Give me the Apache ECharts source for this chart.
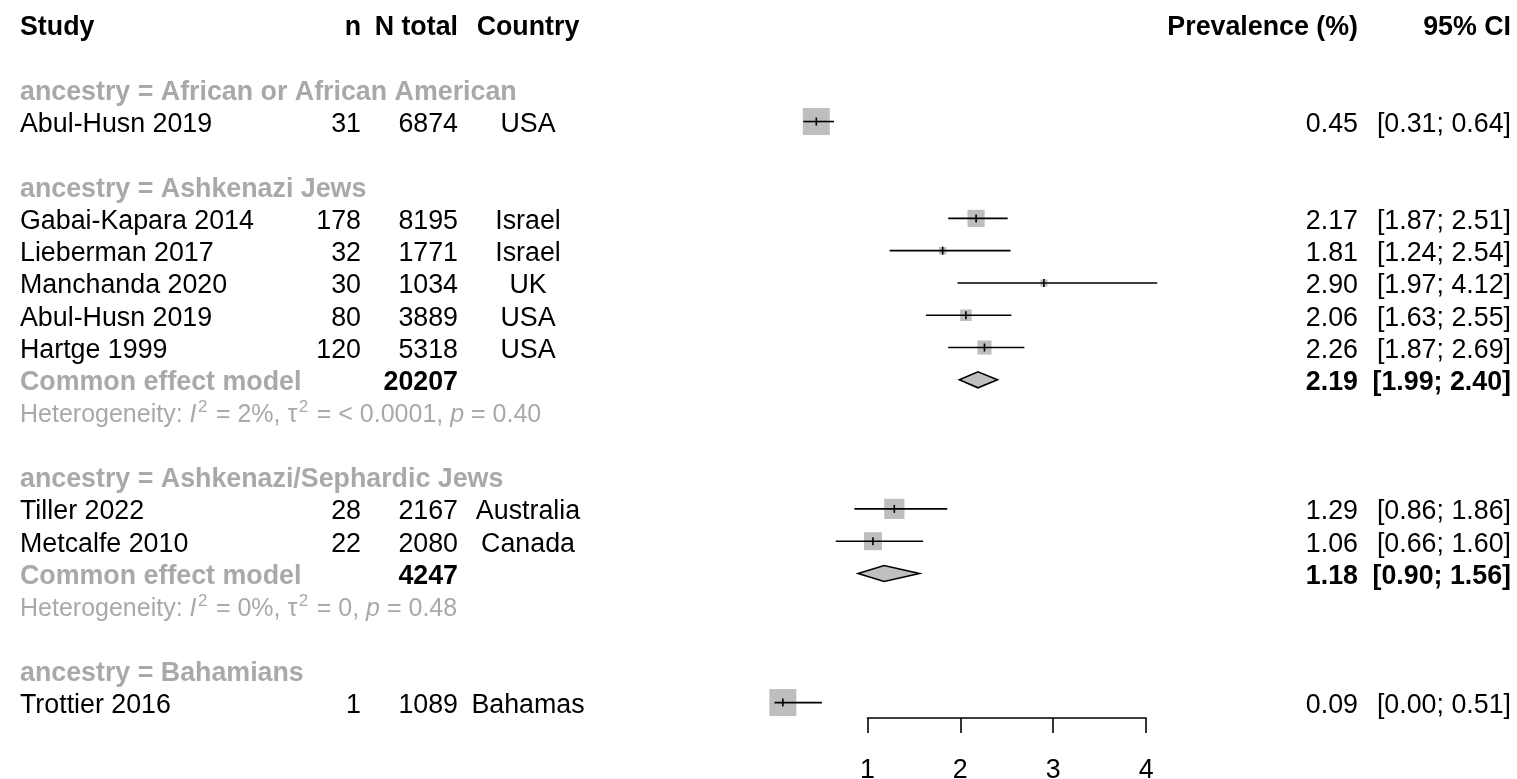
<!DOCTYPE html>
<html>
<head>
<meta charset="utf-8">
<script src="https://cdn.jsdelivr.net/npm/echarts@6/dist/echarts.min.js"></script>
<style>
html,body{margin:0;padding:0;background:#fff;}
#chart{width:1517px;height:779px;}
</style>
</head>
<body>
<div id="chart"></div>
<script>
// ---------------- DATA ----------------
const headers = ['Study', 'n', 'N total', 'Country', 'Prevalence (%)', '95% CI'];
const groupNames = ['African or African American', 'Ashkenazi Jews', 'Ashkenazi/Sephardic Jews', 'Bahamians'];
const studyGroup = [0, 1, 1, 1, 1, 1, 2, 2, 3];
const studies = ['Abul-Husn 2019', 'Gabai-Kapara 2014', 'Lieberman 2017', 'Manchanda 2020', 'Abul-Husn 2019', 'Hartge 1999', 'Tiller 2022', 'Metcalfe 2010', 'Trottier 2016'];
const events = [31, 178, 32, 30, 80, 120, 28, 22, 1];
const totals = [6874, 8195, 1771, 1034, 3889, 5318, 2167, 2080, 1089];
const countries = ['USA', 'Israel', 'Israel', 'UK', 'USA', 'USA', 'Australia', 'Canada', 'Bahamas'];
const prevalence = [0.45, 2.17, 1.81, 2.90, 2.06, 2.26, 1.29, 1.06, 0.09];
const ciLower = [0.31, 1.87, 1.24, 1.97, 1.63, 1.87, 0.86, 0.66, 0.00];
const ciUpper = [0.64, 2.51, 2.54, 4.12, 2.55, 2.69, 1.86, 1.60, 0.51];
const weights = [100, 40.5, 7.3, 6.8, 18.2, 27.3, 56.0, 44.0, 100]; // % weight within subgroup
// pooled (common effect) per subgroup, null where single study
const pooledEst = [null, 2.19, 1.18, null];
const pooledLo = [null, 1.99, 0.90, null];
const pooledHi = [null, 2.40, 1.56, null];
const pooledN = [null, 20207, 4247, null];
const hetI2 = [null, '2%', '0%', null];
const hetTau2 = [null, '< 0.0001', '0', null];
const hetP = [null, '0.40', '0.48', null];
const axisTicks = [1, 2, 3, 4];

// ---------------- ROW LAYOUT ----------------
const rows = [];
let r = 0;
rows.push({kind: 'header', row: r}); r += 2;
groupNames.forEach((g, gi) => {
  rows.push({kind: 'group', row: r, g: gi}); r++;
  studies.forEach((s, si) => {
    if (studyGroup[si] === gi) { rows.push({kind: 'study', row: r, i: si}); r++; }
  });
  if (pooledEst[gi] !== null) {
    rows.push({kind: 'pooled', row: r, g: gi}); r++;
    rows.push({kind: 'het', row: r, g: gi}); r++;
  }
  r++;
});
const nRows = r - 2; // last used row index

// ---------------- STYLE ----------------
const FONT = "'Liberation Sans', Arial, sans-serif";
const FS = 26.8;
const FS_HET = 25;
const GREY_TXT = '#a9a9a9';
const BOX = '#bebebe';
const LW = 1.6;
const X_STUDY = 20, X_N = 361, X_NT = 458, X_COUNTRY = 528, X_PREV = 1358, X_CI = 1511;

function fmt2(v) { return v.toFixed(2); }

function txt(str, x, y, align, weight, color) {
  return {type: 'text', silent: true, style: {text: str, x: x, y: y, align: align, verticalAlign: 'middle',
    fontFamily: FONT, fontSize: FS, fontWeight: weight || 'normal', fill: color || '#000'}};
}

function renderItem(params, api) {
  const it = rows[params.dataIndex];
  const yc = api.coord([0, it.row])[1];
  const ty = yc + 3;
  const ch = [];
  if (it.kind === 'header') {
    ch.push(txt(headers[0], X_STUDY, ty, 'left', 'bold'));
    ch.push(txt(headers[1], X_N, ty, 'right', 'bold'));
    ch.push(txt(headers[2], X_NT, ty, 'right', 'bold'));
    ch.push(txt(headers[3], X_COUNTRY, ty, 'center', 'bold'));
    ch.push(txt(headers[4], X_PREV, ty, 'right', 'bold'));
    ch.push(txt(headers[5], X_CI, ty, 'right', 'bold'));
  } else if (it.kind === 'group') {
    ch.push(txt('ancestry = ' + groupNames[it.g], X_STUDY, ty, 'left', 'bold', GREY_TXT));
  } else if (it.kind === 'study') {
    const i = it.i;
    const pe = api.coord([prevalence[i], it.row]);
    const lo = api.coord([ciLower[i], it.row]);
    const hi = api.coord([ciUpper[i], it.row]);
    const sz = 27 * Math.sqrt(weights[i] / 100);
    ch.push({type: 'rect', silent: true, shape: {x: pe[0] - sz / 2, y: yc - sz / 2, width: sz, height: sz}, style: {fill: BOX}});
    ch.push({type: 'line', silent: true, shape: {x1: lo[0], y1: yc, x2: hi[0], y2: yc}, style: {stroke: '#000', lineWidth: LW}});
    ch.push({type: 'line', silent: true, shape: {x1: pe[0], y1: yc - 4, x2: pe[0], y2: yc + 4}, style: {stroke: '#000', lineWidth: LW}});
    ch.push(txt(studies[i], X_STUDY, ty, 'left'));
    ch.push(txt(String(events[i]), X_N, ty, 'right'));
    ch.push(txt(String(totals[i]), X_NT, ty, 'right'));
    ch.push(txt(countries[i], X_COUNTRY, ty, 'center'));
    ch.push(txt(fmt2(prevalence[i]), X_PREV, ty, 'right'));
    ch.push(txt('[' + fmt2(ciLower[i]) + '; ' + fmt2(ciUpper[i]) + ']', X_CI, ty, 'right'));
  } else if (it.kind === 'pooled') {
    const g = it.g;
    const pe = api.coord([pooledEst[g], it.row]);
    const lo = api.coord([pooledLo[g], it.row]);
    const hi = api.coord([pooledHi[g], it.row]);
    ch.push({type: 'polygon', silent: true, shape: {points: [[lo[0], yc], [pe[0], yc - 8], [hi[0], yc], [pe[0], yc + 8]]},
      style: {fill: '#c0c0c0', stroke: '#000', lineWidth: LW}});
    ch.push(txt('Common effect model', X_STUDY, ty, 'left', 'bold', GREY_TXT));
    ch.push(txt(String(pooledN[g]), X_NT, ty, 'right', 'bold'));
    ch.push(txt(fmt2(pooledEst[g]), X_PREV, ty, 'right', 'bold'));
    ch.push(txt('[' + fmt2(pooledLo[g]) + '; ' + fmt2(pooledHi[g]) + ']', X_CI, ty, 'right', 'bold'));
  } else if (it.kind === 'het') {
    const g = it.g;
    const s = '{h|Heterogeneity: }{i|I}{s|2}{h| = ' + hetI2[g] + ', \u03c4}{s|2}{h| = ' + hetTau2[g] +
      ', }{i|p}{h| = ' + hetP[g] + '}';
    const base = {fontFamily: FONT, fontSize: FS_HET, fill: GREY_TXT, lineHeight: 32, verticalAlign: 'middle'};
    ch.push({type: 'text', silent: true, style: {text: s, x: X_STUDY, y: ty, align: 'left', verticalAlign: 'middle',
      fontFamily: FONT, fontSize: FS_HET, fill: GREY_TXT,
      rich: {
        h: base,
        i: Object.assign({}, base, {fontStyle: 'italic'}),
        s: {fontFamily: FONT, fontSize: 17, fill: GREY_TXT, lineHeight: 6, verticalAlign: 'top', padding: [0, 1.5, 0, 1.5]}
      }}});
  }
  return {type: 'group', children: ch};
}

const chart = echarts.init(document.getElementById('chart'), null, {renderer: 'canvas'});
chart.setOption({
  animation: false,
  backgroundColor: '#fff',
  grid: [
    {left: 774.5, width: 464.5, top: 24.7, bottom: 76.4, outerBoundsMode: 'none', containLabel: false},
    {left: 867.4, width: 278.7, top: 700, bottom: 61, outerBoundsMode: 'none', containLabel: false}
  ],
  xAxis: [
    {gridIndex: 0, type: 'value', min: 0, max: 5, show: false},
    {gridIndex: 1, type: 'value', min: axisTicks[0], max: axisTicks[axisTicks.length - 1], interval: 1,
      position: 'bottom',
      axisLine: {show: true, onZero: false, lineStyle: {color: '#000', width: LW}},
      axisTick: {show: true, length: 15, lineStyle: {color: '#000', width: LW}},
      axisLabel: {show: true, margin: 39, color: '#000', fontSize: FS, fontFamily: FONT},
      splitLine: {show: false}}
  ],
  yAxis: [
    {gridIndex: 0, type: 'value', min: 0, max: nRows, inverse: true, show: false},
    {gridIndex: 1, type: 'value', show: false}
  ],
  series: [{
    type: 'custom',
    xAxisIndex: 0, yAxisIndex: 0,
    clip: false,
    renderItem: renderItem,
    encode: {x: 0, y: 1},
    data: rows.map(o => [0, o.row])
  }]
});
</script>
</body>
</html>
